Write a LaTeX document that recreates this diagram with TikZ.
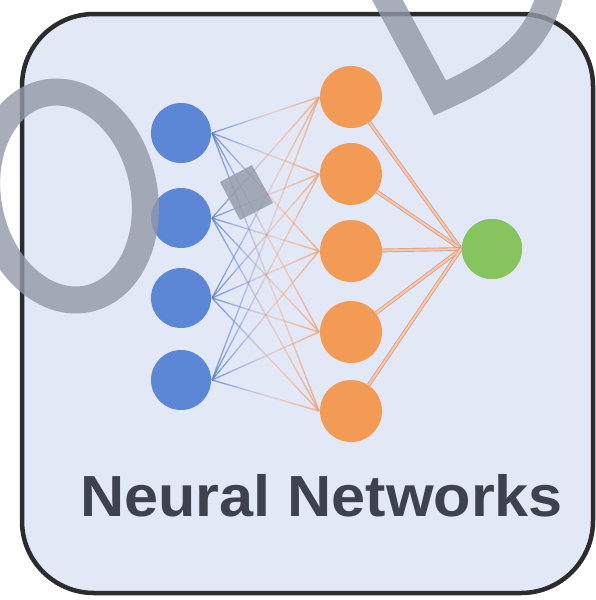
\documentclass[tikz,border=0pt]{standalone}
\usepackage{fontspec}
\newfontfamily\labelfont{Liberation Sans}
\usetikzlibrary{calc}
\definecolor{bgblue}{HTML}{E3E8F6}
\definecolor{boxedge}{HTML}{2C2C2E}
\definecolor{inblue}{HTML}{5B87D6}
\definecolor{hidorange}{HTML}{F39A55}
\definecolor{outgreen}{HTML}{86C45E}
\definecolor{linkblue}{HTML}{5A80C8}
\definecolor{linkorange}{HTML}{F0A070}
\definecolor{outedge}{HTML}{DDA08C}
\definecolor{outcore}{HTML}{F5C9AC}
\definecolor{txtgray}{HTML}{3E414E}
\definecolor{wmgray}{HTML}{9499A8}
\tikzset{
  neuron/.style={circle, minimum size=60pt, inner sep=0pt, draw=none},
  inneuron/.style={neuron, fill=inblue},
  hidneuron/.style={neuron, fill=hidorange, minimum size=62pt},
  outneuron/.style={neuron, fill=outgreen},
  bluelink/.style={draw=linkblue, line width=1.3pt},
  orangelink/.style={draw=linkorange, line width=1.5pt},
  outlink/.style={draw=outedge, line width=0.9pt, double=outcore, double distance=2pt},
  watermark/.style={draw=wmgray, line width=27pt, opacity=0.8},
  caption/.style={font=\labelfont\bfseries\fontsize{58}{60}\selectfont, text=txtgray, inner sep=0pt, anchor=base, xscale=1.055}
}
\begin{document}
\begin{tikzpicture}[x=1pt, y=-1pt]
\useasboundingbox (0,0) rectangle (596,600);
\fill[white] (0,0) rectangle (596,600);
% outer rounded box
\draw[fill=bgblue, draw=boxedge, line width=4.5pt, rounded corners=72pt] (22,14) rectangle (593,593);

% neurons
\foreach \i/\y in {1/133,2/218,3/298,4/380} {
  \node[inneuron] (b\i) at (181,\y) {};
  \coordinate (bo\i) at (212,\y);
}
\foreach \j/\y in {1/97,2/174,3/251,4/332,5/411} {
  \coordinate (oi\j) at (319,\y);
}
\node[outneuron] (g) at (492,249) {};
\coordinate (conv) at (461,249);

% faded links input -> hidden
\foreach \i in {1,...,4} {
  \foreach \j in {1,...,5} {
    \foreach \k in {0,...,24} {
      \pgfmathsetmacro\ta{\k/25}
      \pgfmathsetmacro\tb{(\k+1)/25}
      \pgfmathsetmacro\ob{max(0,0.8*(1-(\ta+0.02)/0.6))}
      \pgfmathsetmacro\oo{max(0,0.75*((\ta+0.02)-0.3)/0.7)}
      \draw[bluelink, draw opacity=\ob] ($(bo\i)!\ta!(oi\j)$) -- ($(bo\i)!\tb!(oi\j)$);
      \draw[orangelink, draw opacity=\oo] ($(bo\i)!\ta!(oi\j)$) -- ($(bo\i)!\tb!(oi\j)$);
    }
  }
}

\foreach \j/\y in {1/97,2/174,3/251,4/332,5/411} {
  \node[hidneuron] (o\j) at (351,\y) {};
}
% hidden -> output
\foreach \j in {1,...,5} {
  \draw[outlink] (o\j) -- (conv);
}
\node[outneuron] at (g) {};

% caption
\node[caption] (cap) at (321.5,516) {Neural Networks};

% watermark shapes
\draw[watermark] (66,196) ellipse [x radius=78, y radius=105, rotate=12];
\fill[wmgray, opacity=0.8] (220,182) -- (252,165) -- (273,203) -- (240,220) -- cycle;
\draw[watermark, line join=miter] (380,-14) -- (440,98) .. controls (498,72) and (540,45) .. (552,-14);
\end{tikzpicture}
\end{document}
